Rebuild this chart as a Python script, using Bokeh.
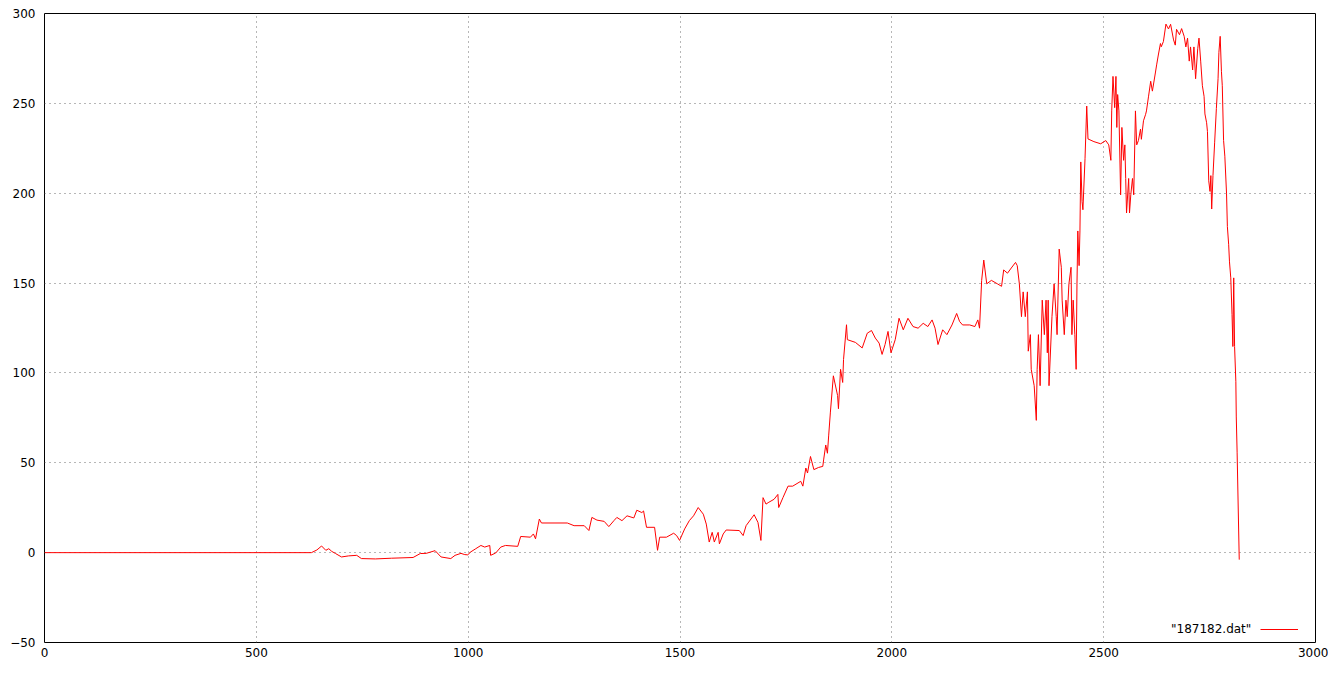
from bokeh.plotting import figure
from bokeh.models import FixedTicker, Legend, LegendItem, Range1d
from bokeh.core.properties import value
from bokeh.embed import file_html
from bokeh.resources import INLINE

series_name = '"187182.dat"'

x_vals = [
    0, 630, 643, 654, 664, 671, 678, 687, 701, 718, 737, 748, 781, 819, 870, 887,
    901, 912, 922, 936, 959, 969, 983, 992, 999, 1006, 1018, 1030, 1039, 1051,
    1053, 1065, 1077, 1088, 1117, 1124, 1147, 1154, 1159, 1168, 1173, 1234, 1250,
    1274, 1285, 1292, 1304, 1321, 1332, 1344, 1351, 1363, 1375, 1391, 1398, 1410,
    1414, 1421, 1440, 1447, 1452, 1468, 1485, 1492, 1499, 1511, 1522, 1532, 1543,
    1555, 1562, 1569, 1576, 1581, 1590, 1593, 1602, 1609, 1640, 1649, 1656, 1675,
    1684, 1691, 1696, 1703, 1708, 1722, 1731, 1733, 1743, 1755, 1766, 1785, 1790,
    1797, 1801, 1808, 1816, 1827, 1837, 1839, 1844, 1848, 1851, 1855, 1862, 1872,
    1874, 1879, 1884, 1886, 1893, 1895, 1914, 1930, 1942, 1952, 1961, 1970, 1977,
    1984, 1991, 1998, 2008, 2017, 2027, 2038, 2050, 2062, 2074, 2085, 2095, 2102,
    2109, 2120, 2130, 2142, 2153, 2160, 2167, 2184, 2196, 2203, 2207, 2212, 2217,
    2224, 2235, 2249, 2259, 2264, 2273, 2282, 2292, 2296, 2301, 2306, 2310, 2315,
    2320, 2322, 2327, 2329, 2336, 2341, 2343, 2346, 2350, 2355, 2360, 2364, 2367,
    2369, 2371, 2378, 2383, 2388, 2390, 2395, 2400, 2402, 2407, 2411, 2414, 2418,
    2423, 2425, 2428, 2432, 2435, 2437, 2439, 2442, 2444, 2446, 2449, 2451, 2456,
    2460, 2463, 2477, 2493, 2505, 2512, 2517, 2519, 2522, 2526, 2529, 2531, 2533,
    2536, 2540, 2543, 2547, 2550, 2552, 2554, 2559, 2561, 2564, 2568, 2571, 2575,
    2578, 2582, 2587, 2589, 2594, 2599, 2601, 2606, 2611, 2615, 2622, 2625, 2629,
    2634, 2636, 2641, 2647, 2653, 2658, 2665, 2669, 2672, 2679, 2684, 2690, 2694,
    2698, 2702, 2705, 2710, 2713, 2717, 2722, 2725, 2729, 2733, 2737, 2739, 2743,
    2745, 2748, 2751, 2753, 2755, 2758, 2762, 2766, 2770, 2772, 2775, 2778, 2780,
    2783, 2786, 2790, 2792, 2795, 2797, 2800, 2803, 2805, 2807, 2809, 2812, 2813,
    2815, 2820,
]

y_vals = [
    0, 0, 1.5, 3.7, 1.3, 2.2, 0.7, -0.5, -2.4, -1.8, -1.5, -3.3, -3.5, -3.1, -2.7, -0.5,
    -0.4, 0.4, 1.1, -2.4, -3.3, -1.5, -0.4, -1.1, -1.2, 0.4, 2.2, 4.0, 3.1, 4.0,
    -1.5, -0.2, 3.1, 4.0, 3.5, 9.0, 8.6, 10.4, 7.7, 18.7, 16.5, 16.5, 15.0,
    15.0, 12.3, 19.6, 18.1, 17.4, 14.5, 17.8, 19.6, 17.8, 20.5, 19.3, 23.6, 22.3,
    23.2, 14.1, 14.1, 1.3, 8.6, 8.6, 10.8, 9.5, 6.8, 13.2, 17.8, 20.5, 25.1,
    21.4, 15.9, 5.9, 11.3, 5.9, 11.3, 4.9, 10.4, 12.6, 12.3, 9.5, 15.0, 21.1,
    16.8, 6.8, 30.6, 27.0, 27.8, 29.7, 32.4, 25.1, 30.6, 37.0, 37.0, 39.7, 37.0,
    47.1, 44.3, 53.5, 46.2, 47.4, 48.0, 51.6, 59.9, 55.3, 65.4, 78.2, 98.4, 87.4,
    80.1, 102.0, 94.7, 107.5, 126.8, 118.5, 117.0, 113.9, 122.1, 123.6, 119.4, 116.6, 110.3,
    115.8, 123.1, 111.2, 118.5, 130.4, 124.0, 130.4, 125.8, 124.9, 127.6, 125.8, 129.5, 124.9,
    115.8, 124.0, 121.3, 126.7, 133.1, 128.6, 126.7, 126.7, 125.8, 129.5, 124.9, 151.5, 162.8,
    149.6, 151.5, 149.6, 148.2, 157.3, 155.5, 158.4, 161.5, 159.7, 149.6, 131.3, 145.1, 131.3,
    145.1, 112.1, 121.3, 102.0, 92.9, 73.6, 102.0, 121.3, 92.9, 140.5, 121.3, 140.5, 111.2,
    140.5, 92.9, 131.3, 149.6, 131.3, 121.3, 168.9, 158.8, 140.5, 121.3, 140.5, 131.3, 149.6,
    158.8, 121.3, 140.5, 121.3, 102.0, 149.6, 179.0, 159.7, 179.0, 217.4, 195.4, 190.8, 219.2,
    248.5, 230.2, 228.7, 227.5, 229.3, 226.9, 218.3, 245.8, 265.0, 247.6, 265.0, 236.6, 254.9,
    245.8, 199.1, 236.6, 218.3, 226.9, 208.2, 189.0, 208.2, 189.0, 199.1, 208.2, 199.1, 245.8,
    226.9, 229.3, 235.7, 230.0, 240.3, 243.9, 245.8, 254.0, 262.3, 256.8, 266.9, 271.4, 276.9,
    283.3, 281.5, 284.4, 294.1, 291.4, 294.0, 285.3, 282.4, 291.2, 288.2, 291.6, 287.3, 281.4,
    286.3, 273.5, 281.4, 268.6, 281.4, 263.7, 280.4, 286.3, 273.5, 259.8, 253.9, 244.1, 239.2,
    234.3, 206.9, 201.0, 209.8, 191.2, 209.8, 228.4, 247.1, 263.7, 278.4, 287.3, 267.6, 259.8,
    229.4, 220.6, 200.0, 181.4, 171.6, 161.8, 152.9, 132.4, 114.7, 152.9, 114.7, 95.1, 75.5,
    55.9, -3.9,
]

x_ticks = [0, 500, 1000, 1500, 2000, 2500, 3000]
y_ticks = [-50, 0, 50, 100, 150, 200, 250, 300]

FONT = "DejaVu Sans"
W, H = 1328, 661
BL, BR, BT, BB = 44, 13, 13, 19
FW = W - BL - BR

p = figure(
    width=W, height=H,
    output_backend="svg", toolbar_location=None,
    x_range=Range1d(0, 3000), y_range=Range1d(-50, 300),
    min_border_left=BL, min_border_right=BR, min_border_top=BT, min_border_bottom=BB,
)
p.background_fill_color = "white"
p.border_fill_color = "white"
p.outline_line_color = "black"
p.outline_line_width = 1
p.outline_line_alpha = 1

r = p.line(x_vals, y_vals, line_color="#ff0000", line_width=1)

for ax in (p.xaxis[0], p.yaxis[0]):
    ax.axis_line_color = None
    ax.major_tick_out = 0
    ax.major_tick_in = 0
    ax.minor_tick_out = 0
    ax.minor_tick_in = 0
    ax.major_label_text_font = FONT
    ax.major_label_text_font_size = "12px"
    ax.major_label_text_color = "black"

p.xaxis[0].ticker = FixedTicker(ticks=x_ticks)
p.yaxis[0].ticker = FixedTicker(ticks=y_ticks)
p.xaxis[0].major_label_standoff = 5
p.yaxis[0].major_label_standoff = 9

for g in (p.xgrid[0], p.ygrid[0]):
    g.grid_line_color = "#6e6e6e"
    g.grid_line_dash = "1 4"
    g.grid_line_width = 1
    g.grid_line_alpha = 1
p.xgrid[0].ticker = FixedTicker(ticks=x_ticks)
p.ygrid[0].ticker = FixedTicker(ticks=y_ticks)

# gnuplot-style key: title first, then the line sample to its right
key_text = Legend(
    items=[LegendItem(label=series_name, renderers=[r])],
    location=(FW - 63 - 81, 6),
    background_fill_alpha=0, border_line_color=None,
    padding=0, margin=0,
    glyph_width=0, glyph_height=14, label_height=14, label_standoff=0,
    label_text_font=FONT, label_text_font_size="12px", label_text_color="black",
)
key_line = Legend(
    items=[LegendItem(label=value(""), renderers=[r])],
    location=(FW - 55, 6),
    background_fill_alpha=0, border_line_color=None,
    padding=0, margin=0,
    glyph_width=38, glyph_height=14, label_height=14, label_standoff=0,
    label_text_font_size="12px",
)
p.add_layout(key_text, "center")
p.add_layout(key_line, "center")

with open("out.html", "w") as f:
    f.write(file_html(p, INLINE))
